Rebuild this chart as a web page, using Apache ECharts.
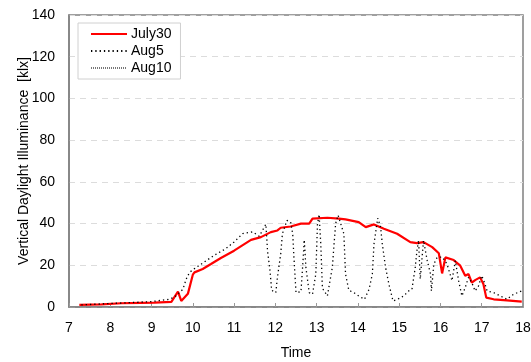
<!DOCTYPE html>
<html>
<head>
<meta charset="utf-8">
<script src="https://cdn.jsdelivr.net/npm/echarts@6/dist/echarts.min.js"></script>
<style>
  html, body { margin: 0; padding: 0; background: #fff; }
  #chart { width: 531px; height: 362px; }
</style>
</head>
<body>
<div id="chart"></div>
<script>
// Time of day (decimal hours) and vertical daylight illuminance [klx]
const july30Time = [7.25, 7.79, 8.27, 8.75, 9.07, 9.48, 9.64, 9.72, 9.88, 10.0, 10.04, 10.24, 10.44, 10.68, 11.0, 11.41, 11.65, 11.89, 12.05, 12.13, 12.37, 12.62, 12.82, 12.9, 13.26, 13.54, 13.7, 14.02, 14.19, 14.39, 14.63, 14.95, 15.27, 15.43, 15.59, 15.8, 15.96, 16.04, 16.12, 16.32, 16.48, 16.6, 16.68, 16.76, 16.84, 16.96, 17.04, 17.11, 17.29, 17.61, 17.97];
const july30Value = [1.0, 1.3, 1.8, 2.0, 2.1, 2.5, 7.4, 2.9, 6.3, 15.5, 16.6, 18.2, 20.6, 23.5, 27.0, 32.2, 33.5, 35.9, 36.7, 38.0, 38.6, 40.0, 40.0, 42.4, 42.8, 42.4, 42.0, 40.7, 38.3, 39.6, 37.5, 35.1, 31.1, 30.6, 31.1, 28.7, 25.8, 16.1, 23.8, 22.5, 19.8, 15.0, 15.8, 11.7, 12.9, 14.2, 11.0, 4.5, 3.7, 3.2, 2.6];

const aug5Time = [7.3, 8.0, 8.5, 9.0, 9.4, 9.56, 9.76, 9.84, 9.92, 10.04, 10.28, 10.52, 10.8, 11.0, 11.21, 11.45, 11.61, 11.77, 11.81, 11.87, 11.91, 12.01, 12.05, 12.13, 12.17, 12.28, 12.37, 12.42, 12.45, 12.5, 12.62, 12.66, 12.7, 12.74, 12.82, 12.9, 12.98, 13.02, 13.06, 13.1, 13.14, 13.26, 13.38, 13.46, 13.52, 13.66, 13.7, 13.78, 13.9, 14.02, 14.16, 14.27, 14.35, 14.39, 14.48, 14.55, 14.59, 14.67, 14.75, 14.85, 14.96, 15.11, 15.23, 15.31, 15.39, 15.43, 15.47, 15.51, 15.59, 15.63, 15.68, 15.76, 15.78, 15.84, 15.92, 16.04, 16.16, 16.28, 16.36, 16.44, 16.52, 16.6, 16.68, 16.76, 16.84, 16.92, 17.0, 17.08, 17.13, 17.29, 17.45, 17.61, 17.77, 17.97];
const aug5Value = [1.0, 1.7, 2.1, 2.6, 3.6, 4.8, 8.5, 13.4, 16.6, 18.4, 21.6, 24.8, 28.0, 31.2, 35.2, 36.0, 33.9, 39.7, 27.0, 17.4, 8.0, 6.9, 14.2, 25.4, 35.1, 41.5, 40.7, 35.1, 23.8, 6.9, 7.3, 19.0, 32.2, 19.0, 6.9, 6.1, 15.8, 39.6, 44.4, 30.3, 9.0, 5.3, 19.0, 40.0, 44.0, 35.1, 15.8, 8.0, 6.9, 5.3, 3.7, 8.5, 15.8, 30.3, 42.6, 38.3, 30.3, 19.0, 11.0, 2.9, 3.7, 5.3, 7.7, 8.5, 19.0, 27.0, 31.9, 13.4, 31.9, 31.9, 22.2, 15.8, 7.7, 20.6, 23.8, 24.0, 20.6, 12.6, 22.2, 12.6, 5.3, 9.3, 14.2, 11.7, 7.7, 10.0, 15.0, 11.0, 7.7, 6.9, 5.3, 3.7, 6.1, 7.7];

const aug10Time = [];
const aug10Value = [];

const xTicks = [7, 8, 9, 10, 11, 12, 13, 14, 15, 16, 17, 18];
const yTicks = [0, 20, 40, 60, 80, 100, 120, 140];

const pairs = (xs, ys) => xs.map((x, i) => [x, ys[i]]);

const FONT = '"Liberation Sans", Arial, sans-serif';
const chart = echarts.init(document.getElementById('chart'), null, { renderer: 'canvas' });

chart.setOption({
  animation: false,
  backgroundColor: '#ffffff',
  textStyle: { fontFamily: FONT },
  grid: {
    left: 69, right: 8, top: 15, bottom: 55,
    outerBoundsMode: 'none', containLabel: false,
    show: true, borderColor: '#808080', borderWidth: 1.5, backgroundColor: 'transparent'
  },
  legend: {
    orient: 'vertical',
    left: 78, top: 23,
    padding: [4, 9, 4, 12],
    borderColor: '#d0d0d0', borderWidth: 1,
    backgroundColor: '#fff',
    itemWidth: 36, itemHeight: 10, itemGap: 3,
    // line-only keys: hide the marker drawn on top of each key line
    itemStyle: { color: 'transparent', borderColor: 'transparent', borderWidth: 0 },
    textStyle: { fontFamily: FONT, fontSize: 14, color: '#000', lineHeight: 14, padding: [0, 0, 0, -1] },
    data: ['July30', 'Aug5', 'Aug10']
  },
  xAxis: {
    type: 'value',
    min: xTicks[0], max: xTicks[xTicks.length - 1], interval: 1,
    name: 'Time', nameLocation: 'middle', nameGap: 39, nameMoveOverlap: false,
    nameTextStyle: { fontFamily: FONT, fontSize: 14, color: '#000' },
    axisLine: { show: true, onZero: false, lineStyle: { color: '#808080', width: 1.5 } },
    axisTick: { show: true, inside: true, length: 4, lineStyle: { color: '#999' } },
    axisLabel: { fontFamily: FONT, fontSize: 14, color: '#000', margin: 14 },
    splitLine: { show: false }
  },
  yAxis: {
    type: 'value',
    min: yTicks[0], max: yTicks[yTicks.length - 1], interval: 20,
    name: 'Vertical Daylight Illuminance  [klx]', nameLocation: 'middle', nameGap: 38, nameMoveOverlap: false,
    nameTextStyle: { fontFamily: FONT, fontSize: 14, color: '#000' },
    axisLine: { show: true, lineStyle: { color: '#808080', width: 1.5 } },
    axisTick: { show: false },
    axisLabel: { fontFamily: FONT, fontSize: 14, color: '#000', margin: 14 },
    splitLine: { show: true, lineStyle: { color: '#dcdcdc', type: [6, 5], width: 1 } }
  },
  series: [
    {
      name: 'July30', type: 'line', data: pairs(july30Time, july30Value),
      symbol: 'none', z: 3,
      lineStyle: { color: '#ff0000', width: 2.2 },
      itemStyle: { color: '#ff0000' }
    },
    {
      name: 'Aug5', type: 'line', data: pairs(aug5Time, aug5Value),
      symbol: 'none', z: 4,
      lineStyle: { color: '#000', width: 1.3, type: [1.3, 3] },
      itemStyle: { color: '#000' }
    },
    {
      name: 'Aug10', type: 'line', data: pairs(aug10Time, aug10Value),
      symbol: 'none', z: 2,
      lineStyle: { color: '#777', width: 1.5, type: [1, 1] },
      itemStyle: { color: '#777' }
    }
  ]
});
</script>
</body>
</html>
